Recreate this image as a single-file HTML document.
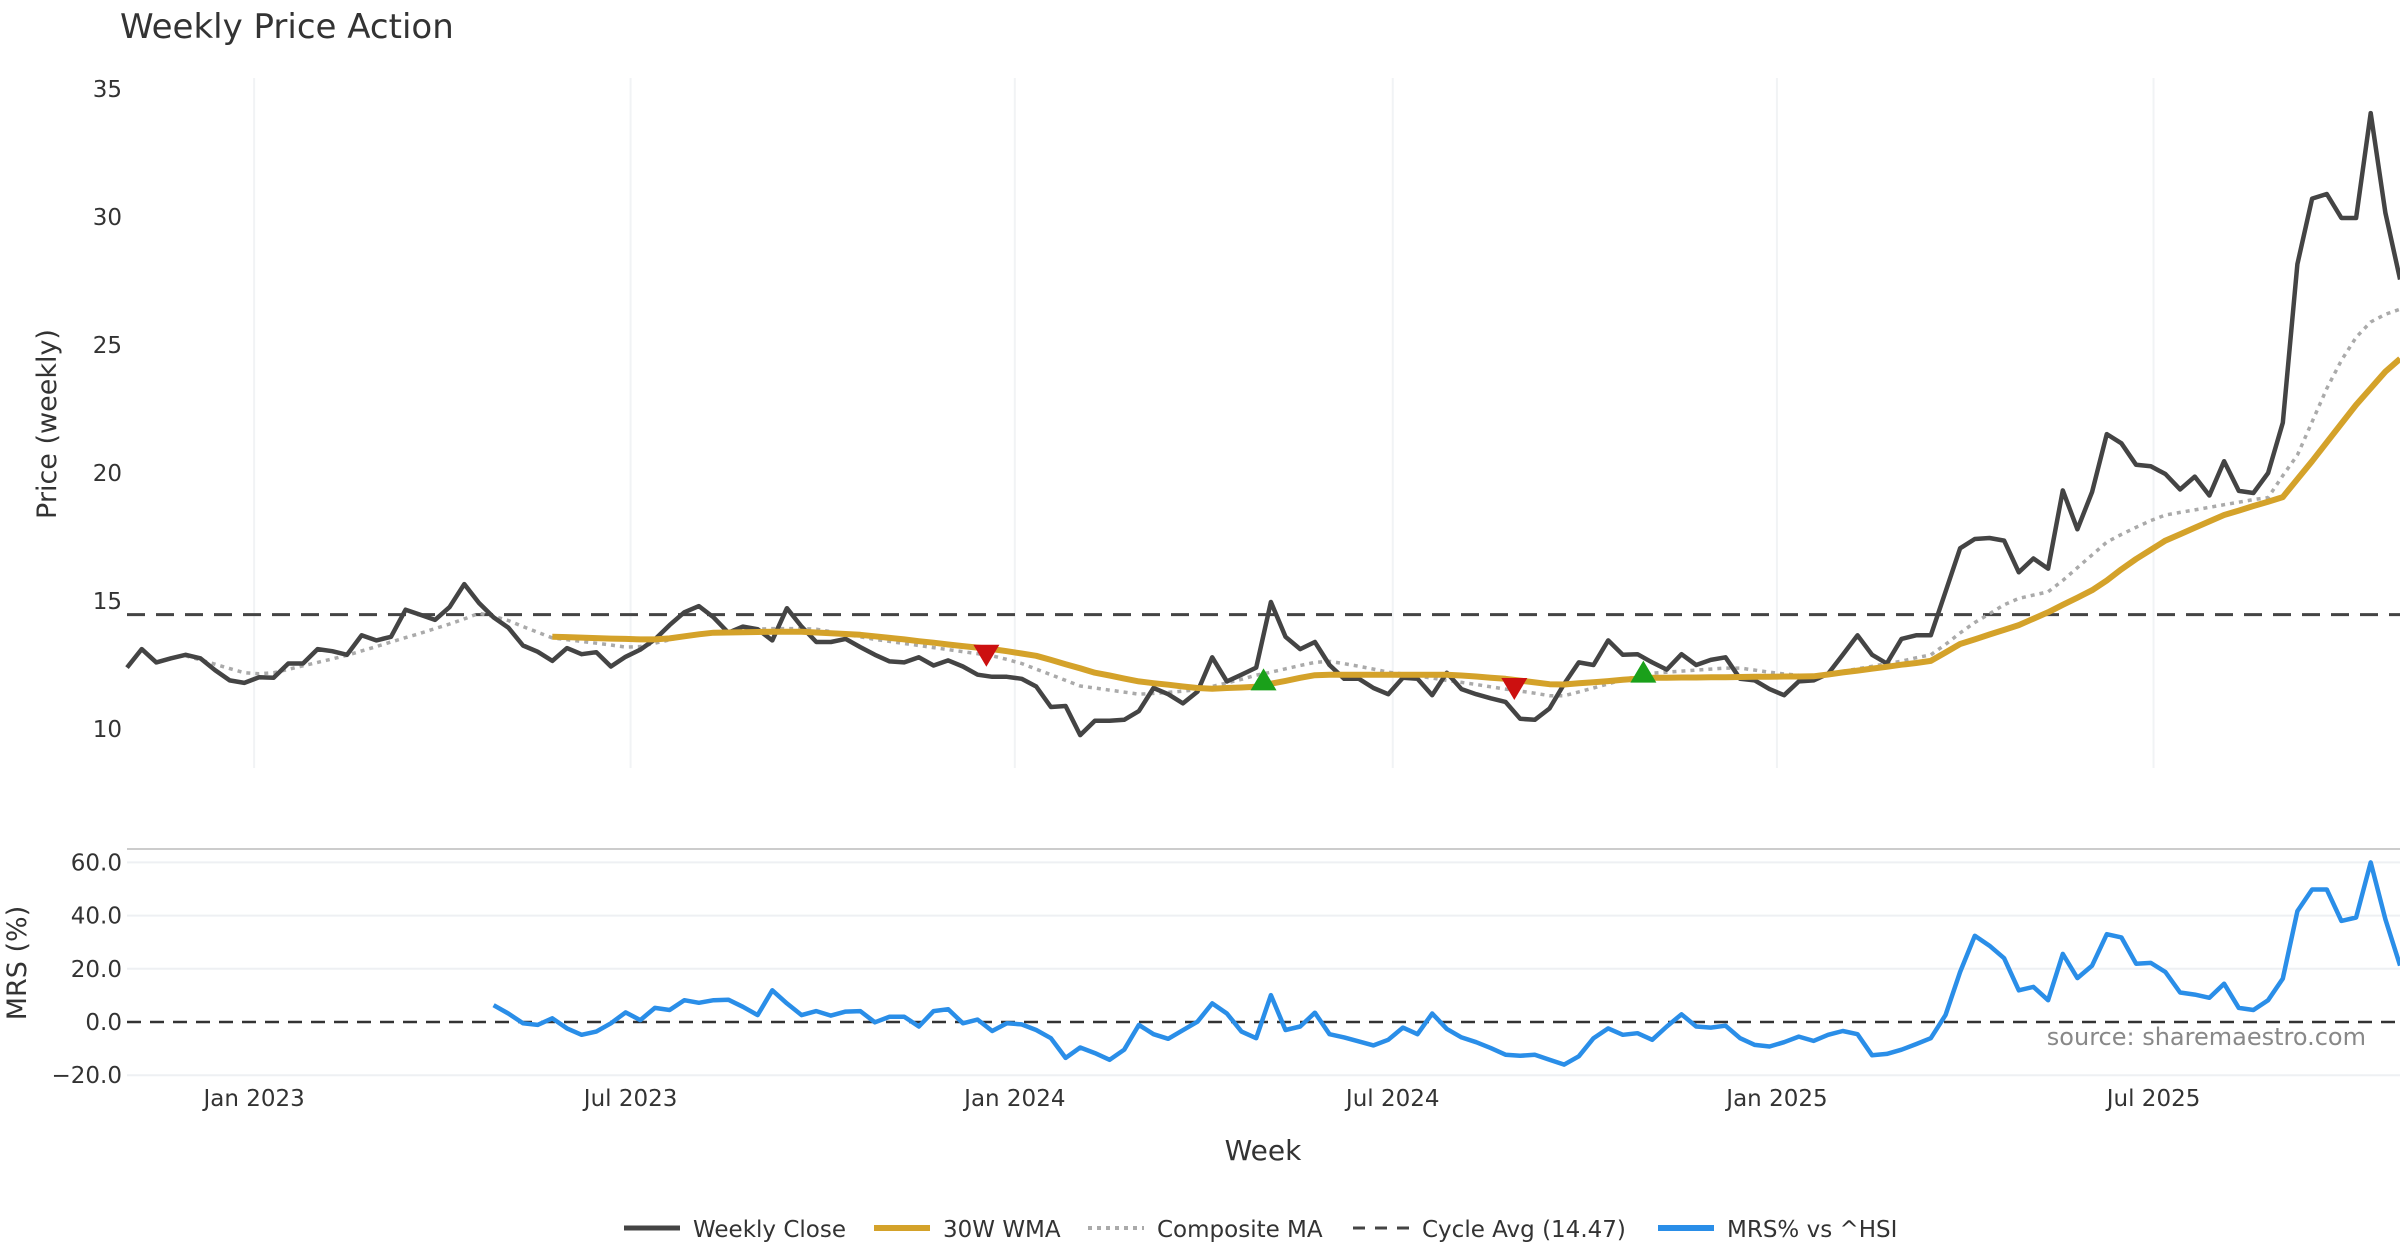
<!DOCTYPE html>
<html><head><meta charset="utf-8"><title>Weekly Price Action</title>
<style>
html,body{margin:0;padding:0;background:#fff;}
svg{display:block;font-family:"DejaVu Sans","Liberation Sans",sans-serif;}
</style></head>
<body>
<svg id="chart" width="2400" height="1260" viewBox="0 0 2400 1260" xmlns="http://www.w3.org/2000/svg">
<text x="120" y="38" font-size="34" fill="#333">Weekly Price Action</text>
<text transform="translate(56,424) rotate(-90)" text-anchor="middle" font-size="27" fill="#333">Price (weekly)</text>
<text transform="translate(26,963) rotate(-90)" text-anchor="middle" font-size="27" fill="#333">MRS (%)</text>
<text x="1263" y="1160" text-anchor="middle" font-size="28" fill="#333">Week</text>
<text x="2366" y="1045" text-anchor="end" font-size="24" fill="#888">source: sharemaestro.com</text>
<line x1="127" y1="849" x2="2400" y2="849" stroke="#ccc" stroke-width="2"/>
<g id="grid"></g>
<g id="marks"></g>
<g id="legend"></g>
</svg>
<script>
const dateTicks = ["Jan 2023","Jul 2023","Jan 2024","Jul 2024","Jan 2025","Jul 2025"];
const dateTickWeeks = [8.67,34.34,60.54,86.31,112.51,138.19];
const priceTicks = [10,15,20,25,30,35];
const mrsTicks = [-20,0,20,40,60];
const mrsTickLabels = ["\u221220.0","0.0","20.0","40.0","60.0"];
const cycleAvg = 14.47;
const closeVals = [12.4,13.12,12.6,12.76,12.9,12.76,12.3,11.9,11.8,12.02,12.0,12.56,12.56,13.12,13.04,12.9,13.66,13.46,13.6,14.66,
14.46,14.26,14.76,15.66,14.92,14.36,13.96,13.26,13.02,12.66,13.16,12.92,13.0,12.44,12.82,13.1,13.5,14.06,14.56,14.8,
14.36,13.76,14.0,13.9,13.46,14.72,14.0,13.4,13.4,13.52,13.2,12.9,12.64,12.6,12.8,12.48,12.68,12.44,12.12,12.04,
12.04,11.96,11.66,10.86,10.9,9.76,10.32,10.32,10.36,10.7,11.6,11.36,11.0,11.46,12.8,11.86,12.12,12.4,14.96,13.6,
13.12,13.4,12.5,11.96,11.96,11.6,11.36,12.0,11.96,11.32,12.2,11.56,11.36,11.2,11.06,10.4,10.36,10.8,11.76,12.6,
12.5,13.46,12.9,12.92,12.6,12.32,12.92,12.5,12.7,12.8,11.96,11.9,11.56,11.32,11.86,11.9,12.16,12.9,13.66,12.9,
12.56,13.52,13.66,13.66,15.36,17.06,17.42,17.46,17.36,16.12,16.66,16.26,19.32,17.8,19.26,21.52,21.16,20.32,20.26,19.96,
19.36,19.86,19.12,20.46,19.3,19.22,20.0,21.96,28.16,30.72,30.9,29.96,29.96,34.06,30.16,27.56];
const wmaStart = 29;
const wmaVals = [13.6,13.59,13.57,13.55,13.53,13.52,13.5,13.5,13.54,13.62,13.7,13.76,13.77,13.78,13.79,13.8,13.8,13.8,13.77,13.74,
13.71,13.68,13.62,13.56,13.5,13.43,13.37,13.3,13.24,13.18,13.12,13.04,12.95,12.86,12.7,12.53,12.37,12.2,12.09,11.97,
11.86,11.79,11.73,11.66,11.6,11.57,11.6,11.62,11.65,11.77,11.88,12.0,12.1,12.12,12.12,12.12,12.12,12.12,12.12,12.12,
12.12,12.12,12.09,12.05,12.0,11.96,11.89,11.82,11.75,11.74,11.79,11.83,11.87,11.92,11.96,12.0,12.0,12.01,12.01,12.02,
12.02,12.03,12.04,12.04,12.05,12.05,12.06,12.13,12.21,12.28,12.36,12.43,12.51,12.58,12.66,12.99,13.32,13.5,13.69,13.87,
14.06,14.31,14.56,14.85,15.13,15.42,15.8,16.24,16.64,17.0,17.36,17.61,17.86,18.11,18.36,18.53,18.71,18.88,19.06,19.76,
20.46,21.2,21.93,22.66,23.31,23.96,24.46];
const compStart = 4;
const compVals = [12.86,12.7,12.53,12.36,12.2,12.16,12.2,12.33,12.47,12.6,12.74,12.88,13.05,13.22,13.4,13.57,13.74,13.92,14.1,14.3,
14.52,14.4,14.24,14.0,13.78,13.56,13.49,13.42,13.35,13.28,13.2,13.22,13.35,13.48,13.62,13.74,13.78,13.82,13.86,13.9,
13.92,13.92,13.92,13.9,13.8,13.7,13.6,13.5,13.42,13.34,13.26,13.18,13.1,13.02,12.94,12.86,12.72,12.56,12.34,12.12,
11.9,11.68,11.6,11.52,11.44,11.36,11.39,11.43,11.48,11.54,11.66,11.8,11.94,12.1,12.22,12.35,12.48,12.6,12.64,12.55,
12.45,12.34,12.22,12.15,12.07,11.99,11.9,11.82,11.74,11.65,11.56,11.48,11.4,11.3,11.3,11.45,11.6,11.76,11.92,12.06,
12.18,12.22,12.26,12.3,12.34,12.38,12.38,12.3,12.22,12.15,12.1,12.06,12.15,12.25,12.35,12.45,12.55,12.65,12.78,12.9,
13.3,13.75,14.16,14.5,14.85,15.1,15.23,15.36,15.8,16.3,16.8,17.3,17.6,17.88,18.14,18.36,18.46,18.56,18.66,18.76,
18.86,18.96,19.04,19.9,20.7,22.0,23.3,24.4,25.3,25.9,26.2,26.4];
const mrsStart = 25;
const mrsVals = [6.3,3.2,-0.5,-1.1,1.4,-2.4,-4.8,-3.6,-0.5,3.6,0.7,5.3,4.5,8.2,7.2,8.2,8.4,5.7,2.6,11.9,
7.0,2.6,4.1,2.4,3.9,4.1,-0.1,2.0,2.0,-1.7,4.1,4.8,-0.5,0.9,-3.4,-0.5,-0.9,-3.0,-6.1,-13.5,
-9.6,-11.7,-14.2,-10.4,-1.1,-4.6,-6.3,-3.1,0.1,7.0,3.2,-3.6,-6.1,10.1,-3.0,-1.7,3.5,-4.6,-5.8,-7.3,
-8.8,-6.7,-2.1,-4.6,3.2,-2.6,-5.8,-7.6,-9.8,-12.3,-12.7,-12.3,-14.2,-16.0,-12.9,-6.1,-2.4,-4.8,-4.2,-6.7,
-1.7,2.9,-1.7,-2.1,-1.4,-6.1,-8.6,-9.2,-7.6,-5.5,-7.1,-4.8,-3.4,-4.6,-12.5,-12.0,-10.4,-8.3,-6.1,2.6,
18.8,32.4,28.7,24.0,11.9,13.2,8.2,25.6,16.5,21.2,33.0,31.8,21.9,22.2,18.8,11.1,10.3,9.1,14.4,5.3,
4.5,8.2,16.3,41.7,49.8,49.8,38.0,39.3,60.0,38.6,21.2];
const signalWeeks = [58.6,77.5,94.6,103.4];
const signalPrices = [12.9,11.9,11.6,12.2];
const signalTypes = ["sell","buy","sell","buy"];

const NS = "http://www.w3.org/2000/svg";
const X0 = 127, XW = 14.665;
function xs(i){ return X0 + XW*i; }
function yp(p){ return 729 - (p-10)*25.6; }
function ym(m){ return 1022 - m*2.66; }
function mk(tag, attrs, parent){
  const e = document.createElementNS(NS, tag);
  for (const k in attrs) e.setAttribute(k, attrs[k]);
  parent.appendChild(e); return e;
}
const grid = document.getElementById("grid");
const marks = document.getElementById("marks");
const legend = document.getElementById("legend");

dateTickWeeks.forEach((w,k)=>{
  const l = mk("line",{x1:xs(w),x2:xs(w),y1:78,y2:768,stroke:"#f1f3f5","stroke-width":2},grid);
  
  
  const t = mk("text",{x:xs(w),y:1106,"text-anchor":"middle","font-size":23,fill:"#333"},grid);
  t.textContent = dateTicks[k];
  
  
});
priceTicks.forEach(p=>{
  const t = mk("text",{x:122,y:yp(p)+8,"text-anchor":"end","font-size":23,fill:"#333"},grid);
  t.textContent = p;
  
  
});
mrsTicks.forEach((m,k)=>{
  if (m!==0){
    const l = mk("line",{x1:127,x2:2400,y1:ym(m),y2:ym(m),stroke:"#eef0f3","stroke-width":2},grid);
    
    
  }
  const t = mk("text",{x:122,y:ym(m)+8,"text-anchor":"end","font-size":23,fill:"#333"},grid);
  t.textContent = mrsTickLabels[k];
  
  
});

function poly(vals, start, yf, attrs, name){
  const pts = vals.map((v,k)=>xs(start+k).toFixed(1)+","+yf(v).toFixed(1)).join(" ");
  const e = mk("polyline", Object.assign({points:pts,fill:"none","stroke-linejoin":"round"},attrs), marks);
  
  
  return e;
}
const cyc = mk("line",{x1:127,x2:2400,y1:yp(cycleAvg),y2:yp(cycleAvg),stroke:"#444","stroke-width":3,"stroke-dasharray":"18,11"},marks);


const zl = mk("line",{x1:127,x2:2400,y1:ym(0),y2:ym(0),stroke:"#333","stroke-width":2.5,"stroke-dasharray":"14,9"},marks);


poly(compVals, compStart, yp, {stroke:"#aaa","stroke-width":3.5,"stroke-dasharray":"4,5"}, "composite-ma-line");
poly(closeVals, 0, yp, {stroke:"#444","stroke-width":4.5}, "weekly-close-line");
poly(wmaVals, wmaStart, yp, {stroke:"#d4a22a","stroke-width":6}, "wma-30w-line");
poly(mrsVals, mrsStart, ym, {stroke:"#2a8ee8","stroke-width":4.5}, "mrs-line");

signalWeeks.forEach((w,k)=>{
  const x = xs(w), y = yp(signalPrices[k]);
  let pts, col;
  if (signalTypes[k]==="sell"){ pts = (x-13)+","+(y-10)+" "+(x+13)+","+(y-10)+" "+x+","+(y+12); col="#cc1010"; }
  else { pts = (x-13)+","+(y+10)+" "+(x+13)+","+(y+10)+" "+x+","+(y-12); col="#1aa01a"; }
  const t = mk("polygon",{points:pts,fill:col},marks);
  
  
});

const legItems = [
  {x:624,label:"Weekly Close",stroke:"#444",dash:null,w:5},
  {x:874,label:"30W WMA",stroke:"#d4a22a",dash:null,w:6},
  {x:1088,label:"Composite MA",stroke:"#aaa",dash:"4,5",w:4},
  {x:1353,label:"Cycle Avg (14.47)",stroke:"#444",dash:"12,10",w:3},
  {x:1658,label:"MRS% vs ^HSI",stroke:"#2a8ee8",dash:null,w:6}
];
legItems.forEach(it=>{
  const g = mk("g",{},legend);
  
  
  const a = {x1:it.x,x2:it.x+56,y1:1228,y2:1228,stroke:it.stroke,"stroke-width":it.w};
  if (it.dash) a["stroke-dasharray"] = it.dash;
  mk("line",a,g);
  const t = mk("text",{x:it.x+69,y:1237,"font-size":23,fill:"#333"},g);
  t.textContent = it.label;
});
</script>
</body></html>
